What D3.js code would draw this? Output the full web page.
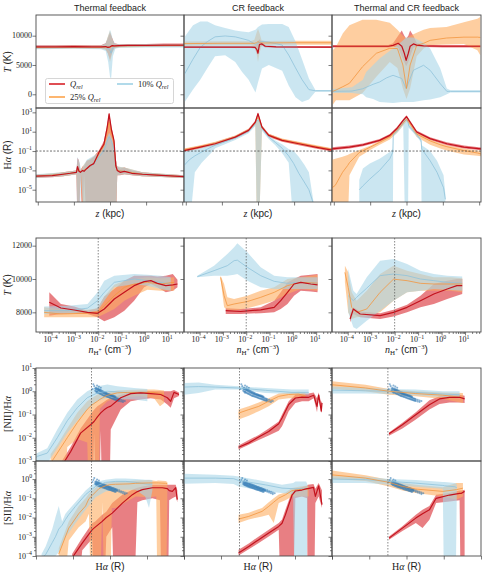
<!DOCTYPE html>
<html><head><meta charset="utf-8">
<script src="https://cdnjs.cloudflare.com/ajax/libs/d3/7.8.5/d3.min.js"></script>
<style>body{margin:0;background:#fff}</style>
</head><body>
<svg id="c" width="486" height="572" xmlns="http://www.w3.org/2000/svg"></svg>
<script>
// ---------- DATA: each row = [x, median, low, high] ----------
// Row 1: T (K) vs z (kpc)
const tz_th_red=[[-20.5,8100,7850,8350],[-15,8100,7850,8350],[-10,8150,7900,8400],[-5,8100,7850,8350],[-2.5,8100,7850,8350],[-1.2,8150,7700,8700],[-0.6,8000,7000,9500],[0,8100,6000,10500],[0.6,8300,7200,9600],[1.2,8250,7900,8700],[2.5,8300,8050,8550],[5,8350,8100,8600],[10,8350,8100,8600],[15,8400,8150,8650],[20.5,8400,8150,8650]];
const tz_th_orange=[[-20.5,8000,7750,8250],[-10,8050,7800,8300],[-2.5,8000,7750,8300],[-1.2,8050,7600,8600],[-0.6,8000,7000,9800],[0,8000,5500,10800],[0.6,8200,7000,9500],[1.2,8200,7800,8600],[2.5,8250,8000,8500],[10,8300,8050,8550],[20.5,8350,8100,8600]];
const tz_th_blue=[[-20.5,8000,7700,8300],[-10,8000,7750,8300],[-2.5,8000,7700,8300],[-1.2,8000,7400,8700],[-0.5,7800,5500,10000],[0,7500,3000,11000],[0.3,7000,2600,10500],[0.8,8000,6500,9200],[1.5,8200,7800,8600],[3,8250,7950,8550],[10,8300,8000,8600],[20.5,8300,8000,8600]];
const tz_cr_red=[[-20.5,8050,7900,8200],[-10,8050,7900,8200],[-2,8050,7900,8200],[-0.8,8000,7800,8300],[-0.3,7600,6900,8600],[0,7000,6700,9000],[0.4,8500,8000,9400],[1.1,8600,8300,8900],[2,8200,8000,8400],[5,8100,7950,8250],[20.5,8050,7900,8200]];
const tz_cr_orange=[[-20.5,8650,8300,9000],[-10,8700,8350,9050],[-2,8700,8350,9050],[-1,8700,8200,9300],[-0.4,8800,7000,10500],[0,9000,5500,11200],[0.4,8800,7000,10500],[1,8750,8300,9200],[2,8750,8400,9100],[10,8800,8450,9150],[20.5,8800,8450,9150]];
const tz_cr_blue=[[-20.3,3500,-1300,9800],[-18,6000,800,11800],[-16,8000,2500,12400],[-14,9000,4500,12400],[-11.9,9800,6500,11800],[-9.1,9950,6650,11300],[-6.3,9800,5500,10900],[-4.4,9500,3800,10700],[-2.6,9200,2500,10600],[-0.7,8500,300,11000],[0,8800,2000,11500],[1.1,9000,4400,11900],[3,8900,5000,12000],[6.7,8400,4000,12000],[8.5,6700,1500,11500],[10.4,4500,-500,9000],[12.2,2500,-1300,6000],[14.1,800,-900,2700],[15.9,600,450,750],[20.3,600,450,750]];
const tz_tc_red=[[-20.3,8200,8000,8400],[-10,8200,8000,8400],[-5,8200,8000,8400],[-3.7,8350,8100,8700],[-2.3,8700,8000,10000],[-1.3,8200,6500,10900],[-0.6,7000,5500,10000],[-0.1,5800,4800,9500],[0.5,7000,5500,10000],[1,8200,6500,10900],[1.9,8600,8000,10000],[2.8,8400,8100,8800],[4.7,8250,8050,8450],[10,8200,8000,8400],[20.3,8200,8000,8400]];
const tz_tc_orange=[[-20.3,500,-1800,7500],[-19.4,730,-1000,8100],[-17.5,1300,-1000,10400],[-15.7,1880,-1000,11800],[-12.1,4700,200,12700],[-8.3,7000,3000,12700],[-4.6,7850,5500,12200],[-2.5,7800,4500,11000],[-1,5000,1000,10000],[0,1000,-800,9500],[1,5000,1000,10000],[2.8,8350,6500,10500],[4.7,8700,7800,11000],[6.5,9200,8400,11300],[11,9600,8500,11500],[15.8,9750,8600,12300],[19.5,9750,7500,12900],[20.3,9700,6650,13200]];
const tz_tc_blue=[[-20.3,500,200,900],[-15,550,200,1200],[-12,950,0,2500],[-11.1,1200,-500,3800],[-9.2,1700,-800,5000],[-7.4,2100,-1300,6100],[-5.5,2800,-1400,7000],[-3.7,3240,-1500,7800],[-1.3,2700,-1300,9000],[-0.1,950,-1300,9700],[1.9,4100,-1300,9700],[4.7,4950,-1000,8800],[6.5,4100,-900,7800],[9.3,1800,-500,4400],[11.1,500,0,1000],[12.1,500,300,700],[20.3,500,300,700]];

// Row 2: log10 Halpha (R) vs z (kpc)
const hz_th_red=[[-20.5,-3.6,-3.75,-3.45],[-16,-3.55,-3.7,-3.4],[-13,-3.4,-3.6,-3.2],[-11,-3.3,-3.5,-3.1],[-9.3,-3.2,-3.4,-3.0],[-9.0,-2.6,-9,-1.7],[-8.6,-3.1,-9,-2.0],[-8.2,-3.2,-3.4,-3.0],[-7.6,-3.0,-9,-2.6],[-7.2,-3.1,-3.3,-2.6],[-6.4,-2.8,-9,-2.0],[-5.5,-2.5,-9,-1.9],[-4.5,-2.3,-9,-1.6],[-3,-1.1,-9,-0.9],[-1.7,-0.3,-9,0.0],[-0.8,1.4,-9,1.7],[-0.25,2.85,-9,2.95],[0.4,1.2,-9,1.5],[1.1,0.1,-9,0.3],[1.6,-2.5,-9,-1.8],[2.0,-3.0,-3.5,-2.6],[2.8,-3.2,-3.5,-2.8],[4,-3.1,-3.4,-2.7],[6,-3.3,-3.5,-3.0],[9,-3.4,-3.6,-3.2],[13,-3.5,-3.65,-3.35],[20.5,-3.65,-3.8,-3.5]];
const hz_th_orange=[[-20.5,-3.6,-3.75,-3.45],[-13,-3.4,-3.6,-3.2],[-9.3,-3.2,-3.4,-3.0],[-8.8,-2.8,-9,-1.8],[-8.2,-3.2,-3.4,-3.0],[-7.4,-3.0,-9,-2.5],[-6.4,-2.8,-9,-2.0],[-4.5,-2.3,-9,-1.6],[-3,-1.3,-9,-1.0],[-1.7,-0.5,-9,-0.2],[-0.8,1.0,-9,1.3],[-0.25,2.0,-9,2.2],[0.4,0.9,-9,1.2],[1.1,-0.1,-9,0.2],[1.6,-2.6,-9,-1.9],[2.0,-3.0,-3.5,-2.6],[4,-3.1,-3.4,-2.7],[9,-3.4,-3.6,-3.2],[20.5,-3.65,-3.8,-3.5]];
const hz_th_blue=[[-20.5,-3.6,-3.8,-3.4],[-13,-3.4,-3.6,-3.2],[-9.3,-3.2,-3.4,-3.0],[-9.0,-2.7,-9,-1.6],[-8.4,-3.1,-9,-2.2],[-8.0,-3.2,-3.4,-3.0],[-7.2,-3.0,-9,-2.4],[-6.4,-2.8,-9,-1.9],[-4.5,-2.4,-9,-1.5],[-3,-1.6,-9,-1.2],[-1.7,-1.0,-9,-0.5],[-0.8,0.0,-9,0.4],[-0.25,0.5,-9,0.9],[0.4,0.0,-9,0.4],[1.1,-0.8,-9,-0.4],[1.6,-2.6,-9,-1.9],[2.0,-3.0,-3.5,-2.6],[4,-3.1,-3.4,-2.7],[9,-3.4,-3.6,-3.2],[20.5,-3.65,-3.8,-3.5]];
const hz_cr_red=[[-20.5,-0.95,-1.1,-0.8],[-16,-0.6,-0.75,-0.45],[-11.85,-0.25,-0.4,-0.1],[-6.3,0.44,0.3,0.58],[-2.6,1.14,1.0,1.3],[-0.74,2.0,1.85,2.15],[0,2.86,2.6,3.0],[1.1,1.48,1.3,1.65],[2.96,0.62,0.45,0.8],[6.67,0.1,-0.05,0.25],[11.3,-0.25,-0.4,-0.1],[15.9,-0.59,-0.75,-0.45],[20.5,-0.9,-1.05,-0.75]];
const hz_cr_orange=[[-20.5,-0.9,-1.05,-0.75],[-16,-0.55,-0.7,-0.4],[-11.85,-0.2,-0.35,-0.05],[-6.3,0.45,0.3,0.6],[-2.6,1.15,1.0,1.3],[-0.74,1.9,1.75,2.05],[-0.3,2.4,-9,2.6],[0.3,2.3,-9,2.5],[1.1,1.45,1.3,1.6],[2.96,0.65,0.5,0.8],[6.67,0.15,0.0,0.3],[11.3,-0.2,-0.35,-0.05],[15.9,-0.52,-0.67,-0.37],[20.5,-0.85,-1.0,-0.7]];
const hz_cr_blue=[[-20.5,-2.5,-9,-1.0],[-19,-1.9,-9,-0.95],[-17.5,-1.5,-3.2,-0.85],[-15.6,-1.1,-2.2,-0.65],[-13,-0.6,-1.2,-0.3],[-11.85,-0.4,-0.7,-0.15],[-6.3,0.35,0.15,0.5],[-2.6,1.05,0.85,1.2],[-0.74,1.8,1.6,1.95],[-0.3,2.2,-9,2.4],[0.3,2.1,-9,2.3],[1.1,1.35,1.1,1.5],[2.96,0.45,0.25,0.6],[4.8,-0.1,-0.4,0.1],[6.67,-0.7,-1.2,-0.3],[8.5,-1.5,-2.2,-0.8],[9.9,-2.3,-9,-1.0],[11.3,-3.3,-9,-1.6],[12.8,-4.2,-9,-2.4],[14.1,-5.0,-9,-3.2],[15.4,-6.5,-9,-6.3]];
const hz_tc_red=[[-20.5,-0.77,-0.92,-0.62],[-15.7,-0.59,-0.74,-0.44],[-12,-0.36,-0.51,-0.21],[-7.4,0.1,-0.05,0.25],[-4.6,0.62,0.47,0.77],[-2.7,1.3,1.15,1.45],[-0.9,2.16,2.0,2.3],[0,2.55,2.4,2.7],[0.97,2.0,1.85,2.15],[2.8,0.97,0.82,1.12],[6.5,0.28,0.13,0.43],[11.1,-0.25,-0.4,-0.1],[15.8,-0.59,-0.74,-0.44],[20.5,-0.78,-0.93,-0.63]];
const hz_tc_orange=[[-20.5,-4.8,-9,-1.9],[-19.6,-4.55,-9,-1.8],[-17.6,-3.2,-9,-1.6],[-16.2,-2.5,-9,-1.4],[-15.7,-2.2,-3.5,-1.3],[-13,-1.15,-1.6,-0.9],[-10,-0.6,-0.9,-0.45],[-7.4,-0.1,-0.35,0.05],[-4.6,0.45,0.2,0.6],[-2.7,1.1,0.85,1.25],[-0.9,1.9,1.65,2.05],[0,2.3,2.05,2.45],[0.97,1.8,1.55,1.95],[2.8,0.75,0.45,0.9],[6.5,0.05,-0.35,0.2],[9.3,-0.35,-0.75,-0.2],[11.1,-0.55,-0.95,-0.4],[15.8,-0.95,-1.35,-0.75],[19.5,-1.2,-1.5,-0.95],[20.5,-1.3,-1.55,-1.0]];
const hz_tc_blue=[[-13.0,-5.0,-9,-4.0],[-12,-4.6,-9,-2.8],[-10.1,-3.9,-9,-2.3],[-7.4,-3.0,-9,-1.8],[-4.6,-1.8,-9,-1.1],[-3.75,-1.1,-9,-0.76],[-3.65,0.7,0.5,0.85],[-2.3,1.2,1.0,1.4],[-0.9,1.9,1.7,2.1],[-0.4,2.2,-9,2.4],[0.4,2.1,-9,2.3],[0.6,1.6,1.4,1.8],[2.8,0.7,0.5,0.9],[4.0,0.1,-0.1,0.3],[4.2,-0.8,-9,-0.4],[6.5,-2.0,-9,-1.0],[8.4,-3.2,-9,-2.0],[10.2,-4.8,-9,-3.5],[10.7,-6,-9,-5.5]];

// Row 3: T (K) vs log10 n_H+ (cm^-3)
const tn_th_red=[[-4.1,8600,7800,9200],[-3.6,8260,7900,8500],[-3.03,8140,7950,8350],[-2.46,8000,7900,8100],[-2.03,7940,7700,8250],[-1.74,8200,7460,8950],[-1.31,8800,7700,9400],[-0.88,9200,8100,9900],[-0.46,9600,8700,10200],[-0.03,9840,9500,10200],[0.26,9900,9700,10200],[0.54,9740,9500,10150],[0.9,9600,9200,10200],[1.2,9650,9300,10300],[1.4,9700,9500,9950]];
const tn_th_orange=[[-4.32,8000,7700,8300],[-3.6,7900,7700,8200],[-2.46,7950,7700,8150],[-2.03,8000,7700,8250],[-1.74,8400,7900,8950],[-1.31,9000,8200,9650],[-0.88,9500,8700,9900],[-0.46,9700,9000,10000],[0.11,9800,9350,10100],[0.68,9700,9300,10050],[1.26,9800,9300,10100]];
const tn_th_blue=[[-4.32,8100,7900,8350],[-3.32,8100,7950,8400],[-2.46,8250,8000,8500],[-2.03,8700,8100,9200],[-1.74,9200,8700,9900],[-1.31,9800,9500,10200],[-0.46,10000,9700,10300],[0.11,9900,9600,10250],[0.68,9800,9400,10200],[1.11,9700,9300,10100]];
const tn_cr_red=[[-2.88,8100,7900,8250],[-2.24,8050,7900,8200],[-1.38,8150,7950,8300],[-0.8,8300,8000,8700],[-0.52,8700,8200,9200],[-0.23,9200,8500,9800],[0.05,9700,9000,10000],[0.34,9800,9300,10200],[0.77,9700,9250,10250],[1.06,9650,9200,10300]];
const tn_cr_orange=[[-3.1,10100,10000,10200],[-2.95,9000,8300,9700],[-2.81,8400,8150,8900],[-2.52,8500,8100,8800],[-1.95,8650,8250,9000],[-1.38,8900,8450,9300],[-0.8,9200,8700,9500],[-0.23,9600,9100,10000],[0.34,9800,9400,10100],[1.06,9750,9300,10250]];
const tn_cr_blue=[[-4.1,10140,10100,10200],[-3.38,10500,10200,10800],[-2.81,10800,10200,11500],[-2.52,11100,10250,11900],[-2.38,11130,10300,12140],[-1.95,10700,9900,11600],[-1.38,10200,9500,10700],[-0.8,9860,9400,10200],[-0.23,9740,9400,10100],[0.34,9800,9400,10100],[1.06,9740,9400,10100]];
const tn_tc_red=[[-3.9,7600,7400,7900],[-3.76,8200,7900,8300],[-3.47,7900,7700,8050],[-2.62,7800,7600,7950],[-2.05,8000,7750,8150],[-1.47,8300,8000,8450],[-0.9,8700,8300,9000],[-0.33,9100,8500,9700],[0.24,9400,8800,9900],[0.65,9600,9000,10000],[0.88,9600,9100,10000]];
const tn_tc_orange=[[-4.12,10400,9800,10800],[-3.98,9500,8000,10400],[-3.83,8300,7600,9200],[-3.62,8000,7700,8700],[-3.19,8200,7780,9300],[-2.62,9200,8000,10300],[-2.05,9990,8700,10800],[-1.47,9900,9200,10500],[-0.9,9740,9300,10300],[-0.33,9700,9300,10100],[0.38,9700,9300,10100],[0.88,9700,9200,10050]];
const tn_tc_blue=[[-3.98,9000,8000,10600],[-3.76,8700,7100,9300],[-3.62,8900,7000,9100],[-3.19,9450,7500,10100],[-2.62,10200,8100,11100],[-2.05,10300,8700,11200],[-1.47,10200,9200,10900],[-0.9,10000,9300,10500],[-0.33,9900,9400,10300],[0.24,9800,9350,10200],[0.88,9750,9300,10150]];

// Row 4: log10 [NII]/Halpha vs log10 Halpha (R)
const n2_th_red=[[-2.6,-3.2,-9,-3.0],[-2.13,-2.6,-9,-2.4],[-1.59,-1.8,-9,-1.6],[-1.05,-1.44,-9,-1.0],[-0.86,-1.3,-1.8,-0.8],[-0.68,-1.1,-9,-0.64],[-0.5,-0.93,-1.7,-0.55],[-0.32,-0.8,-9,-0.45],[-0.14,-0.7,-9,-0.35],[0.04,-0.64,-1.65,-0.3],[0.58,-0.28,-0.78,-0.15],[1.12,-0.1,-0.43,-0.03],[1.66,-0.07,-0.36,0.0],[2.2,-0.1,-0.3,0.0],[2.74,-0.14,-0.36,0.0],[3.1,-0.28,-0.57,0.0],[3.28,-0.43,-0.71,0.0],[3.46,-0.05,-0.3,0.05],[3.73,-0.14,-0.2,-0.05]];
const n2_th_orange=[[-3.21,-3.1,-9,-2.7],[-2.85,-2.66,-9,-2.3],[-2.31,-2.0,-2.4,-1.6],[-1.77,-1.35,-2.05,-0.93],[-1.23,-0.78,-2.2,-0.43],[-1.0,-0.6,-9,-0.3],[-0.68,-0.43,-9,-0.14],[-0.55,-0.35,-0.75,-0.1],[-0.14,-0.17,-0.43,-0.04],[0.4,-0.07,-0.28,0.03],[0.94,-0.05,-0.25,0.05],[1.66,-0.05,-0.22,0.07],[2.38,-0.05,-0.3,0.07],[2.7,-0.1,-0.64,0.05],[2.92,-0.14,-0.5,0.03]];
const n2_th_blue=[[-4,-2.85,-3.1,-2.7],[-3.93,-2.8,-3.1,-2.66],[-3.39,-2.66,-3.1,-2.45],[-2.85,-2.0,-2.45,-1.65],[-2.31,-1.27,-1.8,-0.93],[-1.77,-0.71,-1.27,-0.36],[-1.23,-0.28,-0.78,0.0],[-0.68,-0.07,-0.43,0.21],[-0.14,0.0,-0.28,0.29],[0.4,-0.03,-0.33,0.22],[1.3,-0.07,-0.36,0.14],[2.02,-0.1,-0.43,0.1]];
const n2_cr_red=[[-1.05,-2.41,-2.5,-2.33],[-0.5,-2.22,-2.3,-2.1],[0.04,-1.97,-2.1,-1.88],[0.58,-1.73,-1.9,-1.6],[1.12,-1.4,-1.7,-1.3],[1.3,-1.15,-1.5,-1.0],[1.66,-0.57,-0.86,-0.43],[2.02,-0.29,-0.5,-0.15],[2.38,-0.25,-0.43,-0.1],[2.74,-0.26,-0.43,-0.1],[3.01,-0.17,-0.3,-0.05],[3.19,-0.65,-0.9,-0.3],[3.28,-0.17,-0.3,-0.05],[3.42,-0.86,-0.95,-0.5],[3.46,-0.5,-0.7,-0.4]];
const n2_cr_orange=[[-1.05,-0.94,-1.22,-0.79],[-0.5,-0.79,-1.05,-0.65],[0.04,-0.65,-0.86,-0.48],[0.58,-0.43,-0.65,-0.3],[1.12,-0.22,-0.36,-0.1],[1.66,-0.14,-0.3,-0.05],[2.2,-0.12,-0.3,-0.02],[2.56,-0.2,-0.29,-0.05]];
const n2_cr_blue=[[-4,0.18,-0.15,0.36],[-3.21,0.2,-0.07,0.38],[-2.31,0.18,0.07,0.28],[-1.05,0.14,0.07,0.21],[0.4,0.04,-0.07,0.14],[1.84,-0.05,-0.12,0.07],[2.74,-0.05,-0.15,0.07]];
const n2_tc_red=[[-0.94,-1.83,-1.91,-1.77],[-0.22,-1.44,-1.6,-1.35],[0.5,-1.01,-1.22,-0.9],[1.23,-0.58,-0.79,-0.39],[1.77,-0.33,-0.55,-0.22],[2.31,-0.26,-0.48,-0.15],[2.85,-0.26,-0.48,-0.15],[3.12,-0.33,-0.5,-0.19]];
const n2_tc_orange=[[-4,0.28,0.1,0.43],[-2.2,0.14,0.0,0.28],[-0.94,0.0,-0.15,0.1],[0.5,-0.1,-0.22,0.0],[1.95,-0.17,-0.33,-0.05],[3.03,-0.27,-0.5,-0.07]];
const n2_tc_blue=[[-4,0.05,-0.1,0.2],[-2.2,0.02,-0.1,0.15],[-0.94,0.0,-0.12,0.1],[0.5,-0.05,-0.17,0.08],[1.95,-0.12,-0.25,0.0],[2.85,-0.15,-0.3,0.0]];

// Row 5: log10 [SII]/Halpha vs log10 Halpha (R)
const s2_th_red=[[-2.05,-4.1,-9,-3.9],[-1.5,-3.33,-3.7,-3.05],[-0.96,-2.63,-3.1,-2.3],[-0.8,-2.5,-9,-2.2],[-0.42,-2.2,-9,-1.85],[-0.2,-2.0,-3.0,-1.7],[0.12,-1.77,-2.5,-1.25],[0.3,-1.6,-9,-1.1],[0.67,-1.25,-9,-0.81],[1.21,-0.81,-9,-0.55],[1.48,-0.65,-1.2,-0.45],[1.75,-0.55,-1.1,-0.38],[2.29,-0.45,-1.0,-0.3],[2.7,-0.45,-1.1,-0.3],[2.83,-0.45,-9,-0.3],[3.1,-0.5,-9,-0.3],[3.2,-0.6,-1.1,-0.3],[3.37,-0.64,-1.0,-0.3],[3.55,-0.45,-0.9,-0.3],[3.64,-1.07,-1.2,-0.6]];
const s2_th_orange=[[-2.77,-3.9,-9,-3.6],[-2.23,-2.55,-3.2,-2.2],[-1.69,-1.8,-2.5,-1.4],[-1.32,-1.4,-2.2,-1.0],[-1.14,-1.02,-1.8,-0.75],[-0.96,-0.85,-9,-0.6],[-0.6,-0.5,-9,-0.3],[-0.42,-0.42,-1.2,-0.25],[-0.24,-0.35,-9,-0.2],[-0.05,-0.3,-9,-0.17],[0.1,-0.28,-1.5,-0.15],[0.3,-0.27,-1.5,-0.12],[1.03,-0.25,-1.1,-0.1],[1.39,-0.22,-0.9,-0.08],[2.11,-0.2,-0.95,-0.05],[2.5,-0.2,-0.9,-0.1],[2.6,-0.2,-9,-0.08],[3.0,-0.22,-9,-0.1],[3.1,-0.25,-0.8,-0.15]];
const s2_th_blue=[[-3.7,-4.1,-9,-3.9],[-3.48,-3.93,-9,-3.5],[-3.12,-3.3,-9,-2.6],[-2.95,-3.0,-4.0,-2.0],[-2.77,-2.6,-3.8,-1.4],[-2.59,-2.4,-3.4,-2.2],[-2.41,-2.11,-3.0,-1.8],[-2.23,-1.85,-2.8,-1.6],[-1.87,-1.42,-2.3,-1.2],[-1.32,-0.81,-1.6,-0.6],[-0.78,-0.38,-0.95,-0.15],[-0.24,-0.17,-0.64,-0.03],[0.3,-0.12,-0.55,0.03],[0.85,-0.12,-0.55,0.03],[1.39,-0.17,-0.55,0.0],[1.9,-0.25,-0.9,-0.03],[2.11,-0.27,-1.5,-0.03],[2.29,-0.25,-0.6,-0.05]];
const s2_cr_red=[[-1.05,-3.84,-3.98,-3.67],[-0.5,-3.5,-3.65,-3.35],[0.04,-3.15,-3.33,-2.98],[0.58,-2.8,-2.98,-2.63],[1.12,-2.46,-2.63,-2.29],[1.3,-2.3,-9,-2.1],[1.48,-1.86,-9,-1.59],[1.84,-0.83,-9,-0.64],[2.02,-0.62,-0.99,-0.52],[2.38,-0.57,-0.9,-0.42],[2.65,-0.5,-1.0,-0.35],[2.7,-0.5,-9,-0.3],[3.0,-0.43,-9,-0.25],[3.1,-0.9,-1.25,-0.5],[3.28,-0.35,-0.9,-0.2],[3.46,-1.33,-1.5,-0.6]];
const s2_cr_orange=[[-1.05,-2.08,-2.29,-1.85],[-0.5,-1.94,-2.1,-1.75],[0.22,-1.68,-1.94,-1.5],[0.58,-1.42,-1.85,-1.2],[0.85,-1.2,-2.29,-1.0],[1.12,-0.99,-1.25,-0.8],[1.48,-0.82,-1.1,-0.7],[1.84,-0.6,-0.9,-0.47],[2.2,-0.55,-0.9,-0.4],[2.56,-0.52,-0.9,-0.35],[2.74,-0.52,-0.9,-0.35]];
const s2_cr_blue=[[-4,0.05,-0.24,0.28],[-2.31,0.05,-0.21,0.22],[-1.32,0.02,-0.25,0.17],[-1.05,-0.07,-0.38,0.14],[0.4,-0.3,-0.64,-0.12],[1.3,-0.47,-0.73,-0.29],[1.9,-0.5,-0.8,-0.2],[2.02,-0.5,-9,-0.12],[2.6,-0.5,-9,-0.12],[2.68,-0.5,-0.7,-0.3]];
const s2_tc_red=[[-0.94,-3.07,-3.15,-2.98],[-0.22,-2.55,-2.7,-2.45],[0.5,-2.03,-2.29,-1.85],[0.86,-1.8,-2.55,-1.6],[1.23,-1.6,-2.11,-1.4],[1.59,-1.0,-1.25,-0.81],[2.31,-0.83,-1.16,-0.73],[2.85,-0.74,-1.1,-0.6],[2.95,-0.74,-9,-0.6],[3.12,-0.64,-9,-0.55]];
const s2_tc_orange=[[-4,0.22,0.0,0.45],[-2.2,0.05,-0.1,0.2],[-0.94,-0.17,-0.38,-0.03],[-0.22,-0.38,-0.6,-0.2],[0.5,-0.52,-0.73,-0.29],[1.95,-0.64,-0.9,-0.42],[2.68,-0.55,-1.07,-0.21],[3.03,-0.47,-0.9,-0.2]];
const s2_tc_blue=[[-4,0.0,-0.2,0.15],[-2.2,-0.03,-0.2,0.12],[-0.94,-0.12,-0.3,0.0],[0.5,-0.21,-0.4,-0.05],[1.95,-0.33,-0.5,-0.15],[2.05,-0.35,-9,-0.15],[2.6,-0.4,-9,-0.2],[2.7,-0.45,-0.7,-0.25]];

// Observed points [log10 Halpha, log10 ratio]
const obsNII=[[-0.8,0.12],[-0.8,0.02],[-0.75,0.08],[-0.75,-0.02],[-0.75,0.15],[-0.7,0.1],[-0.7,0.0],[-0.7,-0.06],[-0.65,0.05],[-0.65,-0.05],[-0.65,0.12],[-0.6,0.03],[-0.6,-0.08],[-0.6,0.08],[-0.55,0.0],[-0.55,-0.1],[-0.55,0.06],[-0.5,-0.02],[-0.5,-0.12],[-0.5,0.05],[-0.45,-0.05],[-0.45,-0.14],[-0.45,0.02],[-0.4,-0.06],[-0.4,-0.16],[-0.4,0.0],[-0.35,-0.08],[-0.35,-0.18],[-0.35,-0.02],[-0.3,-0.1],[-0.3,-0.2],[-0.3,-0.04],[-0.25,-0.12],[-0.25,-0.21],[-0.25,-0.06],[-0.2,-0.13],[-0.2,-0.22],[-0.2,-0.08],[-0.15,-0.15],[-0.15,-0.24],[-0.15,-0.1],[-0.1,-0.16],[-0.1,-0.25],[-0.1,-0.12],[-0.05,-0.18],[-0.05,-0.27],[-0.05,-0.13],[0.0,-0.19],[0.0,-0.28],[0.0,-0.14],[0.05,-0.2],[0.05,-0.3],[0.05,-0.16],[0.1,-0.22],[0.1,-0.31],[0.1,-0.17],[0.15,-0.23],[0.15,-0.32],[0.15,-0.19],[0.2,-0.25],[0.2,-0.34],[0.2,-0.2],[0.25,-0.27],[0.25,-0.35],[0.25,-0.22],[0.3,-0.28],[0.3,-0.37],[0.3,-0.24],[0.35,-0.3],[0.35,-0.38],[0.4,-0.31],[0.4,-0.4],[0.45,-0.33],[0.45,-0.41],[0.5,-0.35],[0.5,-0.42],[0.6,-0.37],[0.6,-0.44],[0.7,-0.4],[0.7,-0.46],[0.8,-0.42],[-0.9,0.3],[-0.85,0.22],[-0.7,0.25],[-0.6,0.2],[-0.95,0.1],[-0.5,0.15]];
const obsSII=[[-0.8,-0.15],[-0.8,-0.25],[-0.75,-0.12],[-0.75,-0.22],[-0.75,-0.3],[-0.7,-0.16],[-0.7,-0.24],[-0.7,-0.32],[-0.65,-0.18],[-0.65,-0.26],[-0.65,-0.34],[-0.6,-0.2],[-0.6,-0.28],[-0.6,-0.36],[-0.55,-0.22],[-0.55,-0.3],[-0.55,-0.38],[-0.5,-0.23],[-0.5,-0.32],[-0.5,-0.4],[-0.45,-0.25],[-0.45,-0.33],[-0.45,-0.42],[-0.4,-0.27],[-0.4,-0.35],[-0.4,-0.43],[-0.35,-0.29],[-0.35,-0.37],[-0.35,-0.45],[-0.3,-0.3],[-0.3,-0.38],[-0.3,-0.47],[-0.25,-0.32],[-0.25,-0.4],[-0.25,-0.48],[-0.2,-0.34],[-0.2,-0.42],[-0.2,-0.5],[-0.15,-0.36],[-0.15,-0.44],[-0.15,-0.52],[-0.1,-0.38],[-0.1,-0.45],[-0.1,-0.54],[-0.05,-0.4],[-0.05,-0.47],[-0.05,-0.55],[0.0,-0.41],[0.0,-0.49],[0.0,-0.57],[0.05,-0.43],[0.05,-0.5],[0.05,-0.58],[0.1,-0.45],[0.1,-0.52],[0.1,-0.6],[0.15,-0.47],[0.15,-0.54],[0.15,-0.62],[0.2,-0.48],[0.2,-0.56],[0.2,-0.63],[0.25,-0.5],[0.25,-0.57],[0.25,-0.65],[0.3,-0.52],[0.3,-0.59],[0.3,-0.67],[0.35,-0.54],[0.35,-0.61],[0.4,-0.56],[0.4,-0.62],[0.5,-0.59],[0.5,-0.66],[0.6,-0.63],[0.6,-0.7],[0.7,-0.66],[0.7,-0.74],[0.8,-0.7],[0.8,-0.78],[0.9,-0.74],[-0.9,-0.05],[-0.85,0.05],[-0.7,-0.02],[-0.6,-0.08],[-0.95,-0.15]];

const colTitles=["Thermal feedback","CR feedback","Thermal and CR feedback"];
const zTicks=[-20,-10,0,10,20];
const tTicks1=[0,5000,10000];
const haExp2=[3,1,-1,-3,-5];
const tTicks3=[8000,10000,12000];
const nExp3=[-4,-3,-2,-1,0,1];
const rExp4=[-3,-2,-1,0,1];
const rExp5=[-4,-3,-2,-1,0];
const haExp45=[-4,-2,0,2,4];

// ---------- LAYOUT ----------
const P=v=>Math.pow(10,v);
const I=v=>v;
const cols=[[36,184],[184,332],[332,481]];
const R1=[15,108],R2=[108,202],R3=[238,332],R4=[368,461],R5=[461,556];
const STY={
 b:{fill:'#a9d6e8',fo:0.6,line:'#8fc3db',lw:0.8},
 o:{fill:'#fdae61',fo:0.6,line:'#f3963f',lw:0.8},
 r:{fill:'#dc3b40',fo:0.65,line:'#c3121d',lw:1.2}
};
const SERIF='"Liberation Serif","DejaVu Serif",serif';
const SANS='"Liberation Sans","DejaVu Sans",sans-serif';
const svg=d3.select('#c');
const defs=svg.append('defs');
let cid=0;
function clipG(x0,x1,y0,y1){const id='cp'+(cid++);defs.append('clipPath').attr('id',id).append('rect').attr('x',x0).attr('y',y0).attr('width',x1-x0).attr('height',y1-y0);return svg.append('g').attr('clip-path',`url(#${id})`);}
function fillBand(g,data,X,Y,fx,fy,k){const s=STY[k];
 g.append('path').attr('d',d3.area().x(d=>X(fx(d[0]))).y0(d=>Y(fy(d[2]))).y1(d=>Y(fy(d[3])))(data)).attr('fill',s.fill).attr('fill-opacity',s.fo);}
function medLine(g,data,X,Y,fx,fy,k){const s=STY[k];
 g.append('path').attr('d',d3.line().x(d=>X(fx(d[0]))).y(d=>Y(fy(d[1])))(data)).attr('fill','none').attr('stroke',s.line).attr('stroke-width',s.lw).attr('stroke-linejoin','round');}
function drawSet(g,set,X,Y,fx,fy){
 [2,1,0].forEach(i=>fillBand(g,set[i],X,Y,fx,fy,keys[i]));
 return ()=>[0,1,2].forEach(i=>medLine(g,set[i],X,Y,fx,fy,keys[i]));}
function frame(x0,x1,y0,y1){svg.append('rect').attr('x',x0).attr('y',y0).attr('width',x1-x0).attr('height',y1-y0).attr('fill','none').attr('stroke','#4a4a4a').attr('stroke-width',0.9);}
function supText(g,x,y,anchor,base,exp,fs){const t=g.append('text').attr('x',x).attr('y',y).attr('text-anchor',anchor).attr('font-family',SERIF).attr('font-size',fs).attr('fill','#222');
 t.append('tspan').text(base);t.append('tspan').attr('dy',-3.4).attr('font-size',fs*0.72).text(exp);return t;}
function yAxis(Y,x,vals,minor){const g=svg.append('g').attr('transform',`translate(${x},0)`);
 g.call(d3.axisLeft(Y).tickValues(vals).tickSize(3.5).tickFormat(''));
 if(minor){g.append('g').call(d3.axisLeft(Y).tickValues(minor).tickSize(2).tickFormat(''));}
 g.selectAll('.domain').remove();g.selectAll('line').attr('stroke','#444').attr('stroke-width',0.7);return g;}
function xAxis(X,y,vals,minor){const g=svg.append('g').attr('transform',`translate(0,${y})`);
 g.call(d3.axisBottom(X).tickValues(vals).tickSize(3.5).tickFormat(''));
 if(minor){g.append('g').call(d3.axisBottom(X).tickValues(minor).tickSize(2).tickFormat(''));}
 g.selectAll('.domain').remove();g.selectAll('line').attr('stroke','#444').attr('stroke-width',0.7);return g;}
function minorLog(lo,hi){const a=[];for(let e=Math.floor(lo);e<=Math.ceil(hi);e++)for(let m=2;m<=9;m++){const v=Math.log10(m)+e;if(v>lo&&v<hi)a.push(P(v));}return a;}

const series=[
 [[tz_th_blue,tz_th_orange,tz_th_red],[tz_cr_blue,tz_cr_orange,tz_cr_red],[tz_tc_blue,tz_tc_orange,tz_tc_red]],
 [[hz_th_blue,hz_th_orange,hz_th_red],[hz_cr_blue,hz_cr_orange,hz_cr_red],[hz_tc_blue,hz_tc_orange,hz_tc_red]],
 [[tn_th_blue,tn_th_orange,tn_th_red],[tn_cr_blue,tn_cr_orange,tn_cr_red],[tn_tc_blue,tn_tc_orange,tn_tc_red]],
 [[n2_th_blue,n2_th_orange,n2_th_red],[n2_cr_blue,n2_cr_orange,n2_cr_red],[n2_tc_blue,n2_tc_orange,n2_tc_red]],
 [[s2_th_blue,s2_th_orange,s2_th_red],[s2_cr_blue,s2_cr_orange,s2_cr_red],[s2_tc_blue,s2_tc_orange,s2_tc_red]]
];
const keys=['b','o','r'];

const Y1=d3.scaleLinear().domain([-2340,13530]).range([R1[1],R1[0]]);
const Y2=d3.scaleLog().domain([P(-6.27),P(3.45)]).range([R2[1],R2[0]]);
const Y3=d3.scaleLinear().domain([6820,12460]).range([R3[1],R3[0]]);
const Y4=d3.scaleLog().domain([1e-3,1e1]).range([R4[1],R4[0]]);
const Y5=d3.scaleLog().domain([1e-4,P(0.94)]).range([R5[1],R5[0]]);
const txt=svg.append('g');
function vdash(g,x,y0,y1){g.append('line').attr('x1',x).attr('x2',x).attr('y1',y0).attr('y2',y1).attr('stroke','#555').attr('stroke-width',0.7).attr('stroke-dasharray','1.5,1.5');}
function dots(g,data,X,Y){g.selectAll(null).data(data).enter().append('circle').attr('cx',d=>X(P(d[0]))).attr('cy',d=>Y(P(d[1]))).attr('r',1.05).attr('fill','#2a74b2').attr('fill-opacity',0.55);}

cols.forEach(([x0,x1],ci)=>{
 const Z=d3.scaleLinear().domain([-20.5,20.5]).range([x0,x1]);
 const N=d3.scaleLog().domain([P(-4.67),P(1.68)]).range([x0,x1]);
 const HA=d3.scaleLog().domain([1e-4,1e4]).range([x0,x1]);
 let g=clipG(x0,x1,R1[0],R1[1]);
 drawSet(g,series[0][ci],Z,Y1,I,I)();
 g=clipG(x0,x1,R2[0],R2[1]);
 drawSet(g,series[1][ci],Z,Y2,I,P)();
 g.append('line').attr('x1',x0).attr('x2',x1).attr('y1',Y2(0.1)).attr('y2',Y2(0.1)).attr('stroke','#333').attr('stroke-width',0.7).attr('stroke-dasharray','2,1.5');
 g=clipG(x0,x1,R3[0],R3[1]);
 drawSet(g,series[2][ci],N,Y3,P,I)();
 vdash(g,N(0.01),R3[0],R3[1]);
 g=clipG(x0,x1,R4[0],R4[1]);
 let ln=drawSet(g,series[3][ci],HA,Y4,P,P);
 dots(g,obsNII,HA,Y4); ln();
 vdash(g,HA(0.1),R4[0],R4[1]);
 g=clipG(x0,x1,R5[0],R5[1]);
 ln=drawSet(g,series[4][ci],HA,Y5,P,P);
 dots(g,obsSII,HA,Y5); ln();
 vdash(g,HA(0.1),R5[0],R5[1]);

 [R1,R2,R3,R4,R5].forEach(r=>frame(x0,x1,r[0],r[1]));
 yAxis(Y1,x0,tTicks1);
 yAxis(Y2,x0,haExp2.map(P));
 yAxis(Y3,x0,tTicks3);
 yAxis(Y4,x0,rExp4.map(P),minorLog(-3,1));
 yAxis(Y5,x0,rExp5.map(P),minorLog(-4,0.94));
 xAxis(Z,R2[1],zTicks);
 xAxis(N,R3[1],nExp3.map(P),minorLog(-4.67,1.68));
 xAxis(HA,R5[1],haExp45.map(P));
 nExp3.forEach(e=>supText(txt,N(P(e))-1,342,'middle','10',(e<0?'\u2212':'')+Math.abs(e),8));
 txt.append('text').attr('x',(x0+x1)/2).attr('y',11).attr('text-anchor','middle').attr('font-family',SANS).attr('font-size',9).attr('fill','#222').text(colTitles[ci]);
 let t=txt.append('text').attr('x',(x0+x1)/2).attr('y',217).attr('text-anchor','middle').attr('font-size',10).attr('fill','#222');
 t.append('tspan').attr('font-family',SERIF).attr('font-style','italic').text('z');
 t.append('tspan').attr('font-family',SANS).text(' (kpc)');
 t=txt.append('text').attr('x',(x0+x1)/2).attr('y',353).attr('text-anchor','middle').attr('font-size',10).attr('fill','#222');
 t.append('tspan').attr('font-family',SERIF).attr('font-style','italic').text('n');
 t.append('tspan').attr('font-family',SERIF).attr('font-size',7).attr('dy',2).text('H');
 t.append('tspan').attr('font-family',SERIF).attr('font-size',5.5).attr('dy',-3).text('+');
 t.append('tspan').attr('font-family',SANS).attr('dy',1).text(' (cm');
 t.append('tspan').attr('font-family',SERIF).attr('font-size',6.5).attr('dy',-4).text('\u22123');
 t.append('tspan').attr('font-family',SANS).attr('dy',4).text(')');
 t=txt.append('text').attr('x',(x0+x1)/2).attr('y',570).attr('text-anchor','middle').attr('font-size',10).attr('fill','#222');
 t.append('tspan').attr('font-family',SERIF).text('H');
 t.append('tspan').attr('font-family',SERIF).attr('font-style','italic').text('\u03b1');
 t.append('tspan').attr('font-family',SANS).text(' (R)');
});

const LX=32;
function plain(y,s){txt.append('text').attr('x',LX).attr('y',y+2.8).attr('text-anchor','end').attr('font-family',SERIF).attr('font-size',8).attr('fill','#222').text(s);}
tTicks1.forEach(v=>plain(Y1(v),String(v)));
tTicks3.forEach(v=>plain(Y3(v),String(v)));
haExp2.forEach(e=>supText(txt,LX,Y2(P(e))+2.8,'end','10',(e<0?'\u2212':'')+Math.abs(e),8));
rExp4.forEach(e=>supText(txt,LX,Y4(P(e))+2.8,'end','10',(e<0?'\u2212':'')+Math.abs(e),8));
rExp5.forEach(e=>supText(txt,LX,Y5(P(e))+2.8,'end','10',(e<0?'\u2212':'')+Math.abs(e),8));

function yLab(cy,parts){const t=txt.append('text').attr('transform',`translate(11,${cy}) rotate(-90)`).attr('text-anchor','middle').attr('font-size',10).attr('fill','#222');
 parts.forEach(p=>{const s=t.append('tspan').attr('font-family',p.f).text(p.t);if(p.i)s.attr('font-style','italic');});}
yLab(62,[{t:'T',f:SERIF,i:1},{t:' (K)',f:SANS}]);
yLab(155,[{t:'H',f:SERIF},{t:'\u03b1',f:SERIF,i:1},{t:' (R)',f:SANS}]);
yLab(285,[{t:'T',f:SERIF,i:1},{t:' (K)',f:SANS}]);
yLab(414,[{t:'[NII]/H',f:SERIF},{t:'\u03b1',f:SERIF,i:1}]);
yLab(508,[{t:'[SII]/H',f:SERIF},{t:'\u03b1',f:SERIF,i:1}]);

const lg=svg.append('g');
lg.append('rect').attr('x',45.5).attr('y',78.5).attr('width',128).attr('height',25).attr('rx',2).attr('fill','#fff').attr('fill-opacity',0.85).attr('stroke','#ccc').attr('stroke-width',0.8);
const legItems=[{k:'r',x:49,y:84,pre:''},{k:'b',x:117,y:84,pre:'10% '},{k:'o',x:49,y:97,pre:'25% '}];
legItems.forEach(it=>{
 lg.append('line').attr('x1',it.x).attr('x2',it.x+16).attr('y1',it.y).attr('y2',it.y).attr('stroke',STY[it.k].fill).attr('stroke-width',2).attr('stroke-opacity',0.9);
 const t=lg.append('text').attr('x',it.x+21).attr('y',it.y+3).attr('font-family',SERIF).attr('font-size',8.5).attr('fill','#222');
 if(it.pre)t.append('tspan').text(it.pre);
 t.append('tspan').attr('font-style','italic').text('Q');
 t.append('tspan').attr('font-style','italic').attr('font-size',6).attr('dy',1.5).text('rel');
});
</script>
</body></html>
